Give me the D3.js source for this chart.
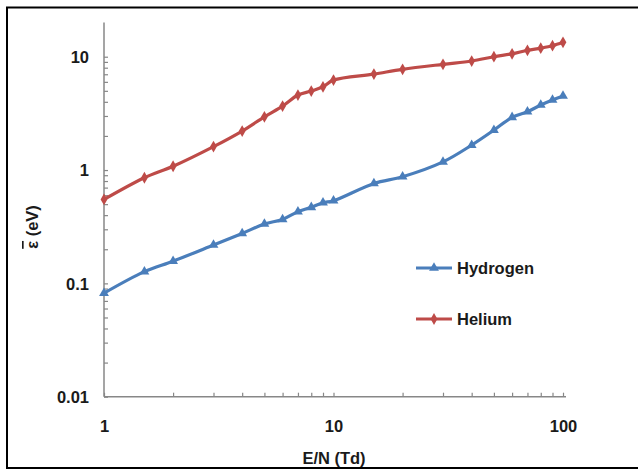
<!DOCTYPE html>
<html><head><meta charset="utf-8">
<script src="https://cdn.jsdelivr.net/npm/d3@7"></script>
<style>
body{margin:0;background:#fff;}
svg{display:block;}
text{font-family:"Liberation Sans",Arial,sans-serif;font-weight:bold;fill:#1a1a1a;}
</style></head>
<body>
<svg id="chart" width="638" height="470"></svg>
<script>
const fieldEN = [1,1.5,2,3,4,5,6,7,8,9,10,15,20,30,40,50,60,70,80,90,100];
const hydrogen = [0.082,0.127,0.157,0.218,0.276,0.334,0.367,0.429,0.469,0.515,0.536,0.762,0.873,1.18,1.66,2.25,2.92,3.27,3.75,4.15,4.5];
const helium = [0.55,0.855,1.08,1.61,2.21,2.95,3.67,4.59,4.98,5.43,6.22,7.03,7.74,8.57,9.16,10.0,10.6,11.4,11.9,12.5,13.4];
const seriesNames = ["Hydrogen","Helium"];
const seriesColors = ["#4a7ebb","#be4b48"];
const xTickLabels = [1,10,100];
const yTickLabels = [0.01,0.1,1,10];

const svg = d3.select("#chart");
const x = d3.scaleLog().domain([1,100]).range([104,563]);
const y = d3.scaleLog().domain([0.01,20]).range([396.7,22.6]);
const FS = 16.5;

const xMinor = [];
for (const d of [1,10]) for (let k=1;k<=9;k++) xMinor.push(d*k);
xMinor.push(100);
const yMinor = [];
for (const d of [0.01,0.1,1]) for (let k=1;k<=9;k++) yMinor.push(d*k);
yMinor.push(10);

const axisColor = "#878787";
const xAxis = svg.append("g").attr("transform","translate(0,396.7)")
  .call(d3.axisTop(x).tickValues(xMinor).tickSize(4).tickFormat(""));
xAxis.select(".domain").attr("stroke",axisColor).attr("stroke-width",1.5).attr("d","M104,0H566");
xAxis.selectAll(".tick line").attr("stroke",axisColor).attr("stroke-width",1.2);
svg.append("g").attr("transform","translate(0,432)")
  .call(d3.axisBottom(x).tickValues(xTickLabels).tickSize(0).tickPadding(0).tickFormat(d3.format("d")))
  .call(g=>{g.select(".domain").remove();
    g.selectAll("text").attr("font-size",FS).attr("dy",0).attr("fill","#1a1a1a")
     .style("font-family",'"Liberation Sans",Arial,sans-serif').style("font-weight","bold");});

const yAxis = svg.append("g").attr("transform","translate(104,0)")
  .call(d3.axisRight(y).tickValues(yMinor).tickSize(4).tickFormat(""));
yAxis.select(".domain").attr("stroke",axisColor).attr("stroke-width",1.5).attr("d","M0,396.7V22.6");
yAxis.selectAll(".tick line").attr("stroke",axisColor).attr("stroke-width",1.2);
svg.append("g").attr("transform","translate(89,0)")
  .call(d3.axisLeft(y).tickValues(yTickLabels).tickSize(0).tickPadding(0).tickFormat(d=>String(d)))
  .call(g=>{g.select(".domain").remove();
    g.selectAll("text").attr("font-size",FS).attr("dy","0.35em").attr("fill","#1a1a1a")
     .style("font-family",'"Liberation Sans",Arial,sans-serif').style("font-weight","bold");});

svg.append("text").attr("x",334).attr("y",464).attr("text-anchor","middle").attr("font-size",FS).text("E/N (Td)");
const yl = svg.append("text").attr("transform","translate(38,227) rotate(-90)").attr("text-anchor","middle")
  .attr("font-size",FS);
yl.append("tspan").style("text-decoration","overline").text("ε");
yl.append("tspan").text(" (eV)");

const line = d3.line().x(d=>x(d[0])).y(d=>y(d[1])).curve(d3.curveCatmullRom.alpha(0.5));
const allSeries = [hydrogen, helium];
const tri = d3.symbol().type(d3.symbolTriangle).size(42);
const dia = d3.symbol().type(d3.symbolDiamond).size(40);
allSeries.forEach((vals,i)=>{
  const pts = fieldEN.map((e,j)=>[e,vals[j]]);
  svg.append("path").datum(pts).attr("d",line).attr("fill","none")
    .attr("stroke",seriesColors[i]).attr("stroke-width",3.2).attr("stroke-linejoin","round");
  svg.append("g").selectAll("path").data(pts).join("path")
    .attr("transform",d=>`translate(${x(d[0])},${y(d[1])})`)
    .attr("d", i===0?tri:dia).attr("fill",seriesColors[i]);
});

const legY = [268,319];
seriesNames.forEach((n,i)=>{
  const g = svg.append("g");
  g.append("line").attr("x1",416).attr("x2",452).attr("y1",legY[i]).attr("y2",legY[i])
    .attr("stroke",seriesColors[i]).attr("stroke-width",3.2);
  g.append("path").attr("transform",`translate(434,${legY[i]})`).attr("d",i===0?tri:dia).attr("fill",seriesColors[i]);
  g.append("text").attr("x",457).attr("y",legY[i]).attr("dy","0.35em").attr("font-size",FS).text(n);
});

svg.append("rect").attr("x",7).attr("y",7.5).attr("width",640).attr("height",460.5)
  .attr("fill","none").attr("stroke","#000").attr("stroke-width",2);
</script>
</body></html>
